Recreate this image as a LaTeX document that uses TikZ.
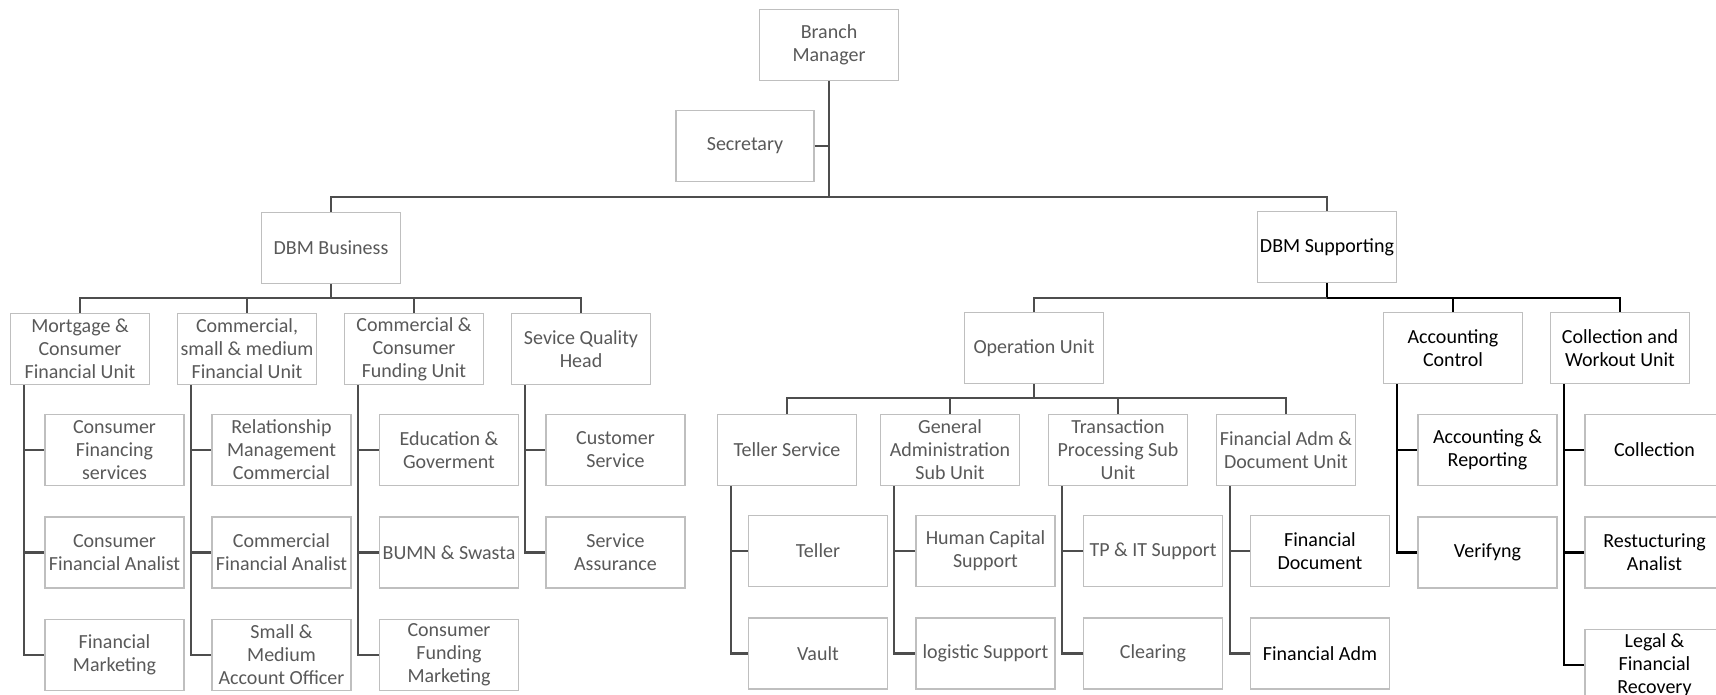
\documentclass[tikz,border=0pt]{standalone}
\usepackage{fontspec}
\setmainfont{Carlito}
\usetikzlibrary{positioning}
\definecolor{boxgray}{HTML}{BFBFBF}
\definecolor{txtgray}{HTML}{595959}
\definecolor{linegray}{HTML}{4D4D4D}
\begin{document}
\begin{tikzpicture}[x=1pt,y=-1pt,
    unit/.style={draw=boxgray,line width=1.4pt,minimum width=139pt,minimum height=71pt,
      inner sep=0pt,align=center,text=txtgray,font=\fontsize{20}{23}\selectfont},
    darkunit/.style={unit,text=black},
    link/.style={draw=linegray,line width=2.6pt},
    darklink/.style={link,draw=black}]
\useasboundingbox (0,0) rectangle (1716,694);
\fill[white] (0,0) rectangle (1716,694);

\node[unit] (bm) at (829,45) {Branch\\Manager};
\node[unit,minimum width=138pt] (sec) at (745,146) {Secretary};
\node[unit] (dbmb) at (331,248) {DBM Business};
\node[darkunit] (dbms) at (1327,247) {DBM Supporting};

\node[unit] (mort) at (80,349) {Mortgage \&\\Consumer\\Financial Unit};
\node[unit] (csm) at (247,349) {Commercial,\\small \& medium\\Financial Unit};
\node[unit] (ccf) at (414,349) {Commercial \&\\Consumer\\Funding Unit};
\node[unit] (sqh) at (581,349) {Sevice Quality\\Head};
\node[unit] (opu) at (1034,348) {Operation Unit};
\node[darkunit] (acc) at (1453,348) {Accounting\\Control};
\node[darkunit] (cwu) at (1620,348) {Collection and\\Workout Unit};

\node[unit] (ts) at (787,450) {Teller Service};
\node[unit] (ga) at (950,450) {General\\Administration\\Sub Unit};
\node[unit] (tp) at (1118,450) {Transaction\\Processing Sub\\Unit};
\node[unit] (fad) at (1286,450) {Financial Adm \&\\Document Unit};

\node[unit] (cfs) at (114.5,450) {Consumer\\Financing\\services};
\node[unit] (cfa) [below=30pt of cfs] {Consumer\\Financial Analist};
\node[unit] (fm) [below=30pt of cfa] {Financial\\Marketing};
\node[unit] (rmc) at (281.5,450) {Relationship\\Management\\Commercial};
\node[unit] (cmfa) [below=30pt of rmc] {Commercial\\Financial Analist};
\node[unit] (smao) [below=30pt of cmfa] {Small \&\\Medium\\Account Officer};
\node[unit] (edu) at (449,450) {Education \&\\Goverment};
\node[unit] (bumn) [below=30pt of edu] {BUMN \& Swasta};
\node[unit] (cfm) [below=30pt of bumn] {Consumer\\Funding\\Marketing};
\node[unit] (cs) at (615.5,450) {Customer\\Service};
\node[unit] (sa) [below=30pt of cs] {Service\\Assurance};

\node[unit] (tel) at (818,551) {Teller};
\node[unit] (vault) [below=30pt of tel] {Vault};
\node[unit] (hcs) at (985.5,551) {Human Capital\\Support};
\node[unit] (logs) [below=30pt of hcs] {logistic Support};
\node[unit] (tpit) at (1153,551) {TP \& IT Support};
\node[unit] (clr) [below=30pt of tpit] {Clearing};
\node[darkunit] (fdoc) at (1320,551) {Financial\\Document};
\node[darkunit] (fadm) [below=30pt of fdoc] {Financial Adm};

\node[darkunit] (accr) at (1487.5,450) {Accounting \&\\Reporting};
\node[darkunit] (ver) [below=30pt of accr] {Verifyng};
\node[darkunit] (coll) at (1654.5,450) {Collection};
\node[darkunit] (rsa) [below=30pt of coll] {Restucturing\\Analist};
\node[darkunit] (lfr) [below=40pt of rsa] {Legal \&\\Financial\\Recovery};

\coordinate (topbus) at (829,197);
\coordinate (bizbus) at (331,298);
\coordinate (supbus) at (1327,298);
\coordinate (opbus) at (1034,398);

\draw[link] (bm) -- (topbus);
\draw[link] (sec.east) -- (sec.east -| bm.south);
\draw[link] (dbmb.north) |- (topbus) -| (dbms.north);
\draw[link] (dbmb.south) -- (bizbus);
\draw[link] (mort.north) |- (bizbus) -| (sqh.north);
\draw[link] (csm.north) -- (csm.north |- bizbus);
\draw[link] (ccf.north) -- (ccf.north |- bizbus);
\draw[darklink] (dbms.south) -- (supbus);
\draw[link] (opu.north) |- (supbus);
\draw[darklink] (supbus) -| (cwu.north);
\draw[darklink] (acc.north) -- (acc.north |- supbus);
\draw[link] (opu.south) -- (opbus);
\draw[link] (ts.north) |- (opbus) -| (fad.north);
\draw[link] (ga.north) -- (ga.north |- opbus);
\draw[link] (tp.north) -- (tp.north |- opbus);

\foreach \p/\kids in {mort/{cfs,cfa,fm},csm/{rmc,cmfa,smao},ccf/{edu,bumn,cfm},sqh/{cs,sa},
    ts/{tel,vault},ga/{hcs,logs},tp/{tpit,clr},fad/{fdoc,fadm}}
  \foreach \k in \kids
    \draw[link] ([xshift=14pt]\p.south west) |- (\k.west);
\foreach \p/\kids in {acc/{accr,ver},cwu/{coll,rsa,lfr}}
  \foreach \k in \kids
    \draw[darklink] ([xshift=14pt]\p.south west) |- (\k.west);
\end{tikzpicture}
\end{document}
